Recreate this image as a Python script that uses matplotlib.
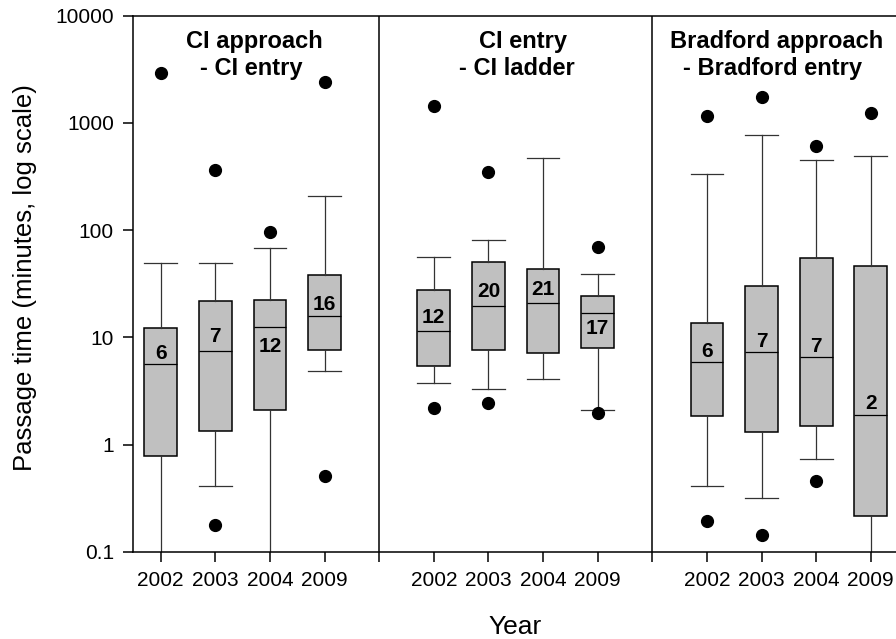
import matplotlib
matplotlib.use('Agg')
import matplotlib.pyplot as plt

plt.rcParams['font.family'] = ['Liberation Sans', 'DejaVu Sans']

years = ['2002', '2003', '2004', '2009']
title_line1 = ['CI approach', 'CI entry', 'Bradford approach']
title_line2 = ['- CI entry', '- CI ladder', '- Bradford entry']

# Box statistics per panel (4 years each)
whislo = [[0.05, 0.41, 0.05, 4.85],
          [3.76, 3.28, 4.09, 2.08],
          [0.407, 0.318, 0.729, 0.05]]
q1 = [[0.78, 1.35, 2.1, 7.62],
      [5.44, 7.68, 7.11, 7.98],
      [1.86, 1.32, 1.49, 0.215]]
med = [[5.65, 7.45, 12.4, 15.7],
       [11.4, 19.7, 21.1, 16.9],
       [5.87, 7.33, 6.59, 1.90]]
q3 = [[12.2, 21.6, 22.1, 37.8],
      [27.6, 50.7, 43.1, 24.4],
      [13.7, 30.3, 54.7, 46.6]]
whishi = [[49, 49.5, 68, 206],
          [55.6, 81.5, 472, 39.3],
          [337, 778, 455, 494]]
fliers = [[[2930], [0.178, 361], [97], [0.508, 2420]],
          [[2.17, 1436], [2.43, 347], [], [1.96, 70]],
          [[0.195, 1149], [0.143, 1740], [0.456, 608], [1231]]]
counts = [[6, 7, 12, 16],
          [12, 20, 21, 17],
          [6, 7, 7, 2]]
count_y = [[7.4, 10.6, 8.6, 21.3],
           [15.9, 27.9, 29, 12.5],
           [7.7, 9.6, 8.6, 2.5]]

yticks = [0.1, 1, 10, 100, 1000, 10000]
ytick_labels = ['0.1', '1', '10', '100', '1000', '10000']

fig = plt.figure(figsize=(8.96, 6.39), dpi=100)
ax = fig.add_axes([0.1488, 0.1366, 0.884, 0.8388])
ax.set_yscale('log')
ax.set_ylim(0.1, 10000)
ax.set_xlim(0.5, 15)

stats = []
positions = []
for p in range(3):
    for i in range(4):
        stats.append(dict(whislo=whislo[p][i], q1=q1[p][i], med=med[p][i],
                          q3=q3[p][i], whishi=whishi[p][i], fliers=fliers[p][i]))
        positions.append(p * 5 + i + 1)

ax.bxp(stats, positions=positions, widths=0.6, capwidths=0.6, patch_artist=True,
       showfliers=True, manage_ticks=False,
       boxprops=dict(facecolor='#c0c0c0', edgecolor='black', linewidth=1.1),
       medianprops=dict(color='black', linewidth=0.9),
       whiskerprops=dict(color='#333333', linewidth=0.9),
       capprops=dict(color='#333333', linewidth=0.9),
       flierprops=dict(marker='o', markerfacecolor='black', markeredgecolor='black',
                       markersize=8.5, linestyle='none'))

for p in range(3):
    for i in range(4):
        ax.text(p * 5 + i + 1, count_y[p][i], str(counts[p][i]), ha='center',
                va='center_baseline', fontsize=15, fontweight='bold', color='black')

# panel dividers
for xd in [5, 10]:
    ax.axvline(xd, color='black', linewidth=1.1)

title_x1 = [2.72, 7.63, 12.28]
title_x2 = [2.65, 7.52, 12.21]
for p in range(3):
    ax.text(title_x1[p], 0.9397, title_line1[p], transform=ax.get_xaxis_transform(),
            ha='center', va='baseline', fontsize=17, fontweight='bold')
    ax.text(title_x2[p], 0.8894, title_line2[p], transform=ax.get_xaxis_transform(),
            ha='center', va='baseline', fontsize=17, fontweight='bold')

xt = list(range(1, 15))
xl = []
for x in xt:
    if x % 5 == 0:
        xl.append('')
    else:
        xl.append(years[(x % 5) - 1])
ax.set_xticks(xt)
ax.set_xticklabels(xl)
ax.set_yticks(yticks)
ax.set_yticklabels(ytick_labels)
ax.yaxis.set_minor_locator(matplotlib.ticker.NullLocator())
ax.tick_params(axis='both', direction='out', length=7, width=1.1, labelsize=15, pad=7)
for s in ax.spines.values():
    s.set_linewidth(1.1)

fig.text(25 / 896, 1 - 277.5 / 639, 'Passage time (minutes, log scale)', rotation=90,
         ha='center', va='center', fontsize=18.5)
fig.text(515 / 896, 1 - 627 / 639, 'Year', ha='center', va='center', fontsize=19)

fig.savefig('out.png', dpi=100)
